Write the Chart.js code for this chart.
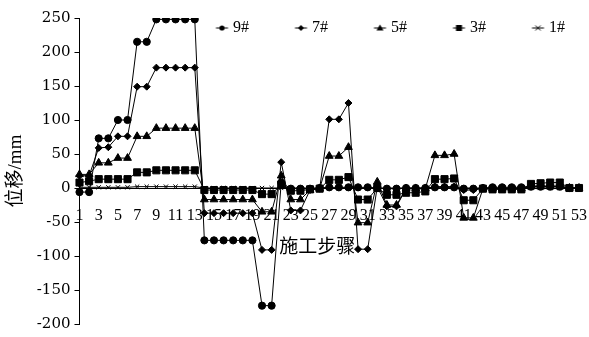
<!DOCTYPE html>
<html lang="zh">
<head>
<meta charset="UTF-8">
<title>位移-施工步骤</title>
<script src="https://cdn.jsdelivr.net/npm/chart.js@4.4.1/dist/chart.umd.min.js"></script>
<style>
  body { margin: 0; background: #fff; }
  #wrap { width: 589px; height: 337px; }
</style>
</head>
<body>
<div id="wrap"><canvas id="canvas" width="589" height="337"></canvas></div>
<script>
// construction steps 1..53
const steps = ['1','2','3','4','5','6','7','8','9','10','11','12','13','14','15','16','17','18','19','20',
  '21','22','23','24','25','26','27','28','29','30','31','32','33','34','35','36','37','38','39','40',
  '41','42','43','44','45','46','47','48','49','50','51','52','53'];

// displacement (mm)
const p9 = [-6,-6,73,73,100,100,215,215,248,248,248,248,248,-77,-77,-77,-77,-77,-77,-173,-173,8,
  -1,-1,-1,0,1,1,1,1,1,0,-1,-1,0,0,0,1,1,1,-1,-1,0,1,1,1,1,2,2,2,2,0,0];
const p7 = [18,18,59,60,76,76,149,149,177,177,177,177,177,-37,-37,-37,-37,-37,-37,-91,-91,38,
  -33,-33,-3,-1,101,101,125,-90,-90,2,-27,-27,-1,-1,-1,2,2,2,-3,-3,-1,-1,-1,-1,-1,3,3,3,3,0,0];
const p5 = [20,20,37,37,44,44,76,76,88,88,88,88,88,-17,-17,-17,-17,-17,-17,-35,-35,18,
  -17,-17,-3,-1,47,47,60,-51,-51,9,-25,-25,-1,-1,-1,48,48,50,-44,-44,-1,-1,-1,-1,-1,2,2,2,2,0,0];
const p3 = [8,10,13,13,13,13,23,23,26,26,26,26,26,-3,-3,-3,-3,-3,-3,-9,-9,5,
  -4,-4,-2,-1,12,12,16,-17,-17,0,-10,-10,-7,-7,-5,13,13,14,-18,-18,-1,-2,-2,-2,-2,6,7,8,8,0,0];
const p1 = [1,1,1,1,1,1,2,2,2,2,2,2,2,0,0,0,0,0,0,0,0,0,
  0,0,0,0,0,0,0,0,0,0,0,0,0,0,0,0,0,0,0,0,0,0,0,0,0,0,0,0,0,0,0];

const yTicks = [-200, -150, -100, -50, 0, 50, 100, 150, 200, 250];

const serif = "'Liberation Serif', 'Noto Sans CJK SC', serif";

// small legend icon: short line with the marker in the middle
function legendIcon(style) {
  const c = document.createElement('canvas');
  c.width = 50; c.height = 10;
  const ctx = c.getContext('2d');
  const cx = 42.5, cy = 5;
  ctx.strokeStyle = '#000';
  ctx.fillStyle = '#000';
  ctx.lineWidth = 1;
  ctx.beginPath();
  ctx.moveTo(36.5, cy); ctx.lineTo(48.5, cy);
  ctx.stroke();
  ctx.beginPath();
  if (style === 'circle') {
    ctx.arc(cx, cy, 2.6, 0, Math.PI * 2); ctx.fill();
  } else if (style === 'rectRot') {
    ctx.moveTo(cx, cy - 3); ctx.lineTo(cx + 3, cy); ctx.lineTo(cx, cy + 3); ctx.lineTo(cx - 3, cy);
    ctx.closePath(); ctx.fill();
  } else if (style === 'triangle') {
    ctx.moveTo(cx, cy - 3.5); ctx.lineTo(cx + 3.5, cy + 2.5); ctx.lineTo(cx - 3.5, cy + 2.5);
    ctx.closePath(); ctx.fill();
  } else if (style === 'rect') {
    ctx.rect(cx - 3, cy - 3, 6, 6); ctx.fill();
  } else {
    ctx.moveTo(cx - 2.5, cy - 2.5); ctx.lineTo(cx + 2.5, cy + 2.5);
    ctx.moveTo(cx + 2.5, cy - 2.5); ctx.lineTo(cx - 2.5, cy + 2.5);
    ctx.stroke();
  }
  return c;
}

const styles = ['circle', 'rectRot', 'triangle', 'rect', 'crossRot'];
const icons = styles.map(legendIcon);

function series(label, data, style, radius) {
  return {
    label: label,
    data: data,
    borderColor: '#000',
    backgroundColor: '#000',
    borderWidth: 1,
    pointStyle: style,
    pointRadius: radius,
    pointBorderWidth: 1,
    pointBackgroundColor: '#000',
    pointBorderColor: '#000',
    tension: 0,
    fill: false
  };
}

// the legend only reserves a thin strip, then is drawn over the top of the plot
const legendFit = {
  id: 'legendFit',
  beforeInit(chart) {
    const fit = chart.legend.fit;
    chart.legend.fit = function () {
      fit.bind(chart.legend)();
      this.height = 12;
    };
  },
  afterLayout(chart) {
    const lg = chart.legend;
    lg.height = 40;
    lg.bottom = lg.top + 40;
  }
};

Chart.defaults.color = '#000';
Chart.defaults.font.family = serif;

new Chart(document.getElementById('canvas'), {
  type: 'line',
  data: {
    labels: steps,
    datasets: [
      series('9#', p9, 'circle', 3.6),
      series('7#', p7, 'rectRot', 3.5),
      series('5#', p5, 'triangle', 4.5),
      series('3#', p3, 'rect', 5),
      series('1#', p1, 'crossRot', 3)
    ]
  },
  options: {
    responsive: false,
    animation: false,
    devicePixelRatio: 1,
    layout: { padding: { top: 6, right: 10, bottom: 7, left: 0 } },
    plugins: {
      tooltip: { enabled: false },
      legend: {
        position: 'top',
        align: 'end',
        labels: {
          usePointStyle: true,
          pointStyleWidth: 41,
          padding: 14,
          color: '#000',
          font: { family: serif, size: 16 },
          generateLabels(chart) {
            const items = Chart.defaults.plugins.legend.labels.generateLabels(chart);
            items.forEach((it, i) => { it.pointStyle = icons[i]; });
            return items;
          }
        }
      }
    },
    scales: {
      x: {
        type: 'category',
        position: { y: 0 },
        offset: false,
        grid: { display: false, drawTicks: false },
        border: { display: true, color: '#000', width: 1 },
        afterFit(scale) {
          scale.paddingRight = 0;
        },
        ticks: {
          autoSkip: false,
          maxRotation: 0,
          minRotation: 0,
          padding: 18,
          color: '#000',
          font: { family: serif, size: 16 },
          callback: function (val, i) {
            return i % 2 === 0 ? this.getLabelForValue(val) : '';
          }
        },
        title: {
          display: true,
          text: '施工步骤\u3000 ',
          color: '#000',
          font: { family: serif, size: 19 },
          padding: { top: -7, bottom: 0 }
        }
      },
      y: {
        min: -200,
        max: 250,
        afterBuildTicks(scale) {
          scale.ticks = yTicks.map(v => ({ value: v }));
        },
        grid: { display: true, drawOnChartArea: false, drawTicks: true, tickLength: 5, color: '#000' },
        border: { display: true, color: '#000', width: 1 },
        ticks: {
          padding: 4,
          color: '#000',
          font: { family: "'DejaVu Serif', serif", size: 15 }
        },
        title: {
          display: true,
          text: '位移/mm',
          color: '#000',
          font: { family: serif, size: 19 },
          padding: { top: 5, bottom: 5 }
        }
      }
    }
  },
  plugins: [legendFit]
});
</script>
</body>
</html>
